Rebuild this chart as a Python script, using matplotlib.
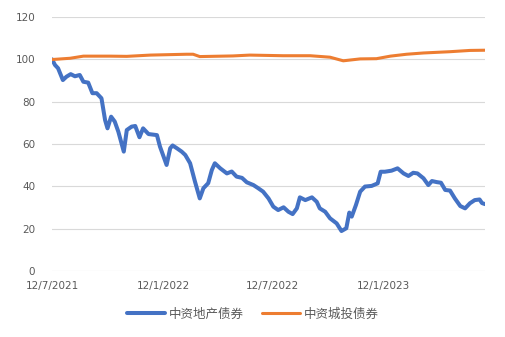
import numpy as np
import pandas as pd
import matplotlib
matplotlib.use("Agg")
import matplotlib.pyplot as plt

# ---------------------------------------------------------------------
# Data
# ---------------------------------------------------------------------
property_dates = [
    "2021-07-12", "2021-07-17", "2021-07-22", "2021-07-30", "2021-08-05",
    "2021-08-12", "2021-08-19", "2021-08-27", "2021-09-02", "2021-09-10",
    "2021-09-17", "2021-09-24", "2021-10-02", "2021-10-08", "2021-10-12",
    "2021-10-18", "2021-10-24", "2021-10-30", "2021-11-08", "2021-11-13",
    "2021-11-21", "2021-11-27", "2021-12-04", "2021-12-10", "2021-12-19",
    "2022-01-02", "2022-01-07", "2022-01-18", "2022-01-24", "2022-01-28",
    "2022-02-04", "2022-02-12", "2022-02-18", "2022-02-26", "2022-03-06",
    "2022-03-14", "2022-03-20", "2022-03-28", "2022-04-03", "2022-04-08",
    "2022-04-17", "2022-04-28", "2022-05-06", "2022-05-14", "2022-05-23",
    "2022-05-31", "2022-06-11", "2022-06-19", "2022-06-27", "2022-07-06",
    "2022-07-14", "2022-07-22", "2022-07-31", "2022-08-08", "2022-08-15",
    "2022-08-22", "2022-08-27", "2022-09-05", "2022-09-16", "2022-09-24",
    "2022-09-29", "2022-10-08", "2022-10-16", "2022-10-27", "2022-11-04",
    "2022-11-12", "2022-11-17", "2022-11-21", "2022-11-28", "2022-12-05",
    "2022-12-13", "2022-12-24", "2023-01-03", "2023-01-08", "2023-01-15",
    "2023-01-26", "2023-02-05", "2023-02-15", "2023-02-23", "2023-03-03",
    "2023-03-10", "2023-03-20", "2023-03-28", "2023-04-03", "2023-04-11",
    "2023-04-18", "2023-04-25", "2023-05-03", "2023-05-11", "2023-05-20",
    "2023-05-28", "2023-06-05", "2023-06-13", "2023-06-21", "2023-06-25",
    "2023-06-30",
]
property_values = [
    100.0, 97.3, 95.8, 90.2, 91.8,
    93.0, 92.0, 92.6, 89.4, 89.0,
    84.0, 84.0, 81.6, 71.3, 67.4,
    72.9, 70.6, 65.8, 56.4, 66.6,
    68.2, 68.5, 63.2, 67.4, 64.7,
    64.2, 58.8, 50.1, 58.0, 59.3,
    58.0, 56.4, 54.8, 50.9, 42.3,
    34.3, 39.1, 41.5, 47.7, 50.9,
    48.5, 46.1, 47.0, 44.6, 44.0,
    41.9, 40.6, 39.1, 37.5, 34.3,
    30.4, 28.8, 30.1, 28.0, 26.9,
    29.6, 34.8, 33.5, 34.8, 32.7,
    29.6, 28.0, 24.9, 22.5, 18.9,
    20.2, 27.6, 25.7, 31.2, 37.5,
    39.9, 40.2, 41.4, 46.9, 46.9,
    47.4, 48.5, 46.1, 44.9, 46.4,
    46.1, 43.8, 40.6, 42.5, 42.0,
    41.7, 38.3, 38.0, 34.3, 30.7,
    29.6, 32.0, 33.5, 33.8, 32.1,
    31.6,
]

lgfv_dates = [
    "2021-07-12", "2021-08-11", "2021-09-02", "2021-10-16", "2021-11-13",
    "2021-12-22", "2022-02-20", "2022-03-03", "2022-03-14", "2022-05-08",
    "2022-06-05", "2022-07-30", "2022-09-13", "2022-10-16", "2022-11-07",
    "2022-12-05", "2023-01-01", "2023-01-24", "2023-02-20", "2023-03-20",
    "2023-05-03", "2023-06-05", "2023-06-30",
]
lgfv_values = [
    99.9, 100.5, 101.5, 101.5, 101.4,
    102.0, 102.4, 102.4, 101.3, 101.6,
    102.0, 101.7, 101.7, 101.0, 99.3,
    100.2, 100.3, 101.5, 102.4, 103.0,
    103.6, 104.2, 104.3,
]

series_labels = ["中资地产债券", "中资城投债券"]
tick_dates = ["2021-07-12", "2022-01-12", "2022-07-12", "2023-01-12"]
tick_labels = ["12/7/2021", "12/1/2022", "12/7/2022", "12/1/2023"]
y_ticks = [0, 20, 40, 60, 80, 100, 120]

# ---------------------------------------------------------------------
# Plot
# ---------------------------------------------------------------------
plt.rcParams["font.family"] = ["DejaVu Sans", "Noto Sans CJK SC"]

fig = plt.figure(figsize=(5.06, 3.37), dpi=100)
ax = fig.add_axes([0.1028, 0.1958, 0.8557, 0.7538])

x_prop = pd.to_datetime(property_dates)
x_lgfv = pd.to_datetime(lgfv_dates)

ax.plot(x_prop, property_values, color="#4472C4", linewidth=2.9,
        solid_capstyle="round", solid_joinstyle="round",
        label=series_labels[0], zorder=3)
ax.plot(x_lgfv, lgfv_values, color="#ED7D31", linewidth=2.2,
        solid_capstyle="round", solid_joinstyle="round",
        label=series_labels[1], zorder=3)

ax.set_xlim(x_prop[0], x_prop[-1])
ax.set_ylim(0, 120)
ax.set_yticks(y_ticks)
ax.set_xticks(pd.to_datetime(tick_dates))
ax.set_xticklabels(tick_labels)

ax.grid(axis="y", color="#D9D9D9", linewidth=0.8)
ax.set_axisbelow(True)
for side in ["top", "right", "left", "bottom"]:
    ax.spines[side].set_visible(False)

ax.tick_params(axis="both", length=0, labelsize=7.5, labelcolor="#595959")
ax.tick_params(axis="y", pad=12)
ax.tick_params(axis="x", pad=7)

leg = fig.legend(
    loc="center",
    bbox_to_anchor=(0.5, 1 - 314 / 337),
    ncol=2,
    frameon=False,
    handlelength=3.0,
    handletextpad=0.3,
    columnspacing=1.5,
    prop={"family": ["Noto Sans CJK SC", "DejaVu Sans"], "size": 9},
)
for text in leg.get_texts():
    text.set_color("#595959")

fig.savefig("out.png", dpi=100)
